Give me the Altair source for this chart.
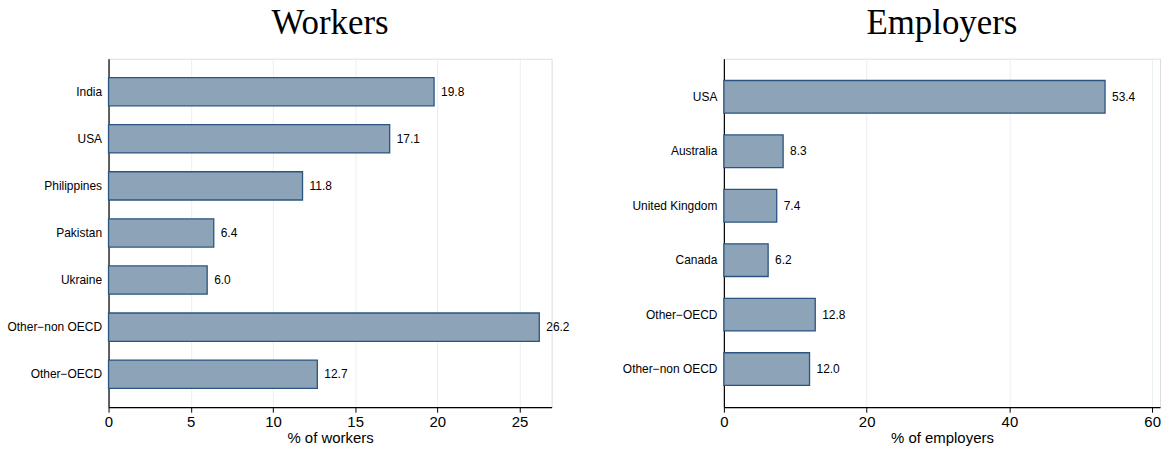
import altair as alt
import pandas as pd

# Country of workers and employers, shares in percent
worker_countries = ["India", "USA", "Philippines", "Pakistan", "Ukraine",
                    "Other\u2212non OECD", "Other\u2212OECD"]
worker_shares = [19.8, 17.1, 11.8, 6.4, 6.0, 26.2, 12.7]

employer_countries = ["USA", "Australia", "United Kingdom", "Canada",
                      "Other\u2212OECD", "Other\u2212non OECD"]
employer_shares = [53.4, 8.3, 7.4, 6.2, 12.8, 12.0]

workers_ticks = [0, 5, 10, 15, 20, 25]
employers_ticks = [0, 20, 40, 60]

FILL = "#8DA3B8"
EDGE = "#2B5580"
GRID = "#E8F0F2"
SANS = "Liberation Sans"
SERIF = "Liberation Serif"


def panel(countries, shares, title, xtitle, domain, ticks, width):
    df = pd.DataFrame({"country": countries, "share": shares})
    df["label"] = df["share"].map(lambda v: f"{v:.1f}")
    y = alt.Y("country:N", sort=countries, title=None,
              scale=alt.Scale(paddingInner=0.4, paddingOuter=0.4),
              axis=alt.Axis(ticks=False, labelFontSize=12, labelFont=SANS,
                            labelColor="#000", labelPadding=7,
                            domainColor="#000", domainWidth=1.2,
                            minExtent=100, maxExtent=100))
    x = alt.X("share:Q", title=xtitle,
              scale=alt.Scale(domain=domain, nice=False, zero=True),
              axis=alt.Axis(values=ticks, format="d", labelFontSize=15,
                            labelFont=SANS, labelColor="#000",
                            labelFlush=False,
                            titleFont=SANS, titleFontSize=15,
                            titleFontWeight="normal", titleColor="#000",
                            titlePadding=1, tickColor="#000", tickSize=5,
                            domainColor="#000", domainWidth=1.2,
                            grid=True, gridColor=GRID, gridWidth=1))
    bars = alt.Chart(df).mark_bar(fill=FILL, stroke=EDGE, strokeWidth=1.3).encode(y=y, x=x)
    text = alt.Chart(df).mark_text(align="left", baseline="middle", dx=7,
                                   fontSize=12, font=SANS, color="#000").encode(
        y=alt.Y("country:N", sort=countries), x="share:Q", text="label:N")
    return (bars + text).properties(
        width=width, height=350,
        title=alt.TitleParams(title, font=SERIF, fontSize=35,
                              fontWeight="normal", color="#000",
                              anchor="middle", frame="group", offset=18))


left = panel(worker_countries, worker_shares, "Workers", "% of workers",
             [0, 26.95], workers_ticks, 445)
right = panel(employer_countries, employer_shares, "Employers", "% of employers",
              [0, 61.1], employers_ticks, 438)

chart = alt.hconcat(left, right, spacing=51).properties(
    padding={"left": 6, "top": 4, "right": 0, "bottom": 0}
).configure_view(stroke=None).configure(background="white")

chart.save("out.html", embed_options={"renderer": "svg", "actions": False})
